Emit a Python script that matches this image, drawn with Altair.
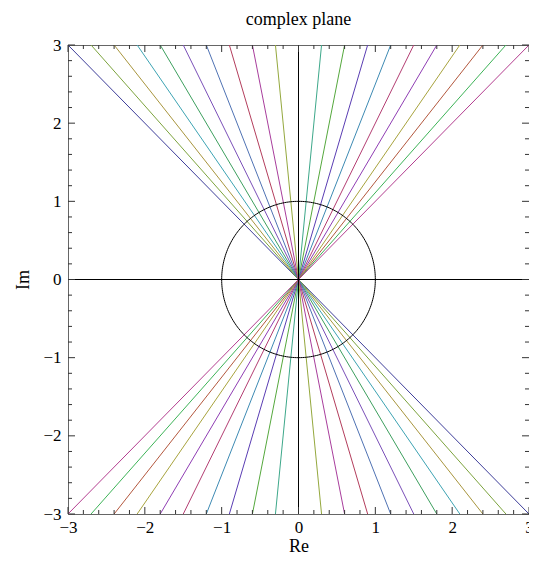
import altair as alt
import pandas as pd
import numpy as np

# Endpoints of each line on the top edge (Im = 3) and bottom edge (Im = -3)
top_x = [-3.0, -2.7, -2.4, -2.1, -1.8, -1.5, -1.2, -0.9, -0.6, -0.3, 0.0,
         0.3, 0.6, 0.9, 1.2, 1.5, 1.8, 2.1, 2.4, 2.7, 3.0]
bottom_x = [3.0, 2.7, 2.4, 2.1, 1.8, 1.5, 1.2, 0.9, 0.6, 0.3, 0.0,
            -0.3, -0.6, -0.9, -1.2, -1.5, -1.8, -2.1, -2.4, -2.7, -3.0]
top_y = 3.0
bottom_y = -3.0
line_colors = ["#3d3d99", "#7ca33d", "#a8953d", "#3da3b3", "#3d9f5e", "#7a4fb8",
               "#4f72b3", "#b33d5c", "#a83d9c", "#94a83d", "#8c6e4a", "#3da88a",
               "#55a83d", "#5a3db3", "#3d8ab3", "#b33d72", "#8f3db3", "#a8a33d",
               "#b3573d", "#3db357", "#b33d8f"]

major_ticks = [-3, -2, -1, 0, 1, 2, 3]
minor_ticks = [-2.8, -2.6, -2.4, -2.2, -1.8, -1.6, -1.4, -1.2, -0.8, -0.6, -0.4, -0.2,
               0.2, 0.4, 0.6, 0.8, 1.2, 1.4, 1.6, 1.8, 2.2, 2.4, 2.6, 2.8]

W, H = 461, 469
FONT = "Liberation Serif"

rows = []
for i, (a, b) in enumerate(zip(top_x, bottom_x)):
    rows.append({"id": i, "o": 0, "x": a, "y": top_y})
    rows.append({"id": i, "o": 1, "x": b, "y": bottom_y})
lines_df = pd.DataFrame(rows)

t = np.linspace(0, 2 * np.pi, 241)
circle_df = pd.DataFrame({"t": t, "x": np.cos(t), "y": np.sin(t)})

axes_df = pd.DataFrame({"x1": [-3, 0], "x2": [3, 0], "y1": [0, -3], "y2": [0, 3]})

xs = alt.Scale(domain=[-3, 3], nice=False, zero=False)
ys = alt.Scale(domain=[-3, 3], nice=False, zero=False)

xaxis = alt.Axis(values=major_ticks, format="d", ticks=False, domain=False, grid=False,
                 labelFont=FONT, labelFontSize=17, labelColor="black",
                 labelPadding=5, labelFlush=False, labelOverlap=False,
                 title="Re", titleFont=FONT, titleFontSize=18,
                 titleFontWeight="normal", titleColor="black", titlePadding=2)
yaxis = alt.Axis(values=major_ticks, format="d", ticks=False, domain=False, grid=False,
                 labelFont=FONT, labelFontSize=17, labelColor="black",
                 labelPadding=7, labelFlush=False, labelOverlap=False,
                 title="Im", titleFont=FONT, titleFontSize=18,
                 titleFontWeight="normal", titleColor="black", titlePadding=10)

base_lines = alt.Chart(lines_df).mark_line(strokeWidth=1, clip=True).encode(
    x=alt.X("x:Q", scale=xs, axis=xaxis),
    y=alt.Y("y:Q", scale=ys, axis=yaxis),
    color=alt.Color("id:N", scale=alt.Scale(domain=list(range(len(top_x))), range=line_colors), legend=None),
    detail="id:N",
    order="o:Q",
)

circle = alt.Chart(circle_df).mark_line(color="black", strokeWidth=1).encode(
    x=alt.X("x:Q", scale=xs), y=alt.Y("y:Q", scale=ys), order="t:Q")

axes_lines = alt.Chart(axes_df).mark_rule(color="black", strokeWidth=1).encode(
    x=alt.X("x1:Q", scale=xs), x2="x2:Q", y=alt.Y("y1:Q", scale=ys), y2="y2:Q")

major_df = pd.DataFrame({"v": major_ticks})
minor_df = pd.DataFrame({"v": minor_ticks})
TICK = "#333333"

def tick_layers(df, length):
    b = alt.Chart(df).mark_rule(color=TICK, strokeWidth=1)
    return [
        b.encode(x=alt.X("v:Q", scale=xs), y=alt.value(H), y2=alt.value(H - length)),
        b.encode(x=alt.X("v:Q", scale=xs), y=alt.value(0), y2=alt.value(length)),
        b.encode(y=alt.Y("v:Q", scale=ys), x=alt.value(0), x2=alt.value(length)),
        b.encode(y=alt.Y("v:Q", scale=ys), x=alt.value(W), x2=alt.value(W - length)),
    ]

layers = [base_lines, circle, axes_lines] + tick_layers(major_df, 7) + tick_layers(minor_df, 4)

chart = alt.layer(*layers).properties(
    width=W, height=H,
    title=alt.TitleParams("complex plane", font=FONT, fontSize=18, fontWeight="normal",
                          color="black", frame="group", anchor="middle", offset=7),
    autosize=alt.AutoSizeParams(type="none"),
    padding={"left": 60, "top": 37, "right": 0, "bottom": 42},
).configure_view(stroke="#666666", strokeWidth=1
).configure_axis(labelFont=FONT, titleFont=FONT)

chart.save("out.html", embed_options={"renderer": "svg", "actions": False})
